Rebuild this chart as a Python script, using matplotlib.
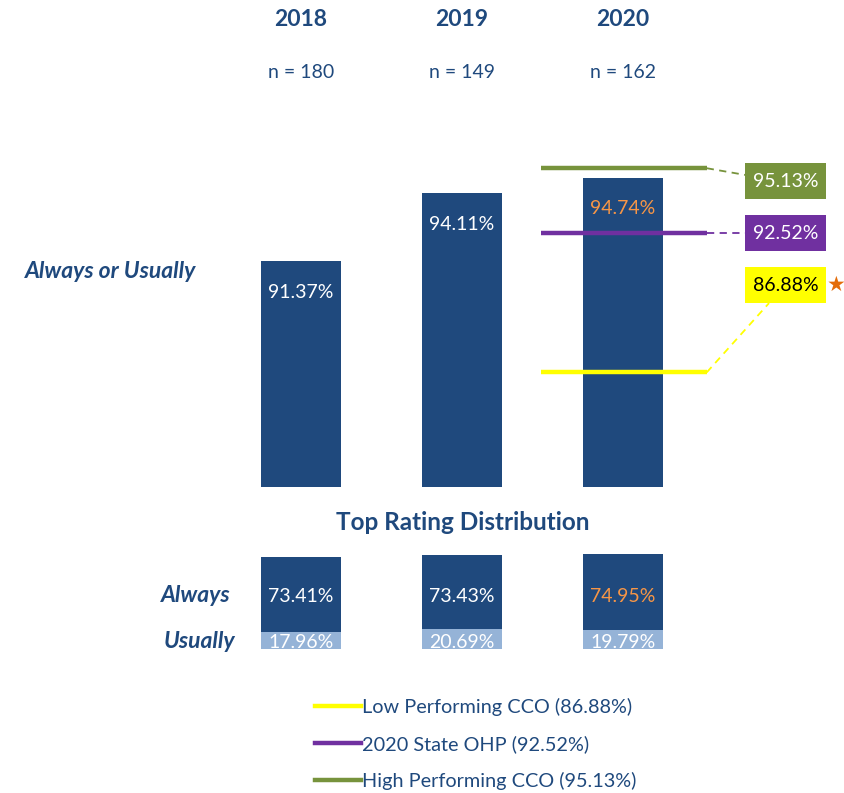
import matplotlib

matplotlib.use("Agg")
import matplotlib.pyplot as plt
import matplotlib.transforms as mtransforms
from matplotlib.lines import Line2D
from matplotlib.patches import Rectangle

plt.rcParams["font.family"] = ["Lato", "DejaVu Sans"]

# ----------------------------------------------------------------------
# Daten
# ----------------------------------------------------------------------
years = ["2018", "2019", "2020"]
n_resp = [180, 149, 162]
always_or_usually = [91.37, 94.11, 94.74]
always = [73.41, 73.43, 74.95]
usually = [17.96, 20.69, 19.79]

ref_names = ["Low Performing CCO", "2020 State OHP", "High Performing CCO"]
ref_values = [86.88, 92.52, 95.13]

# ----------------------------------------------------------------------
# Farben
# ----------------------------------------------------------------------
NAVY = "#1F497D"
LIGHT = "#95B3D7"
ORANGE = "#F79646"
REF_COLORS = ["#FFFF00", "#7030A0", "#77933C"]
BOX_TEXT = ["black", "white", "white"]
STAR = "#E46C0A"

W, H = 844, 793
fig = plt.figure(figsize=(W / 100, H / 100), dpi=100)


def px_axes(top, bottom):
    return fig.add_axes([0, 1 - bottom / H, 1, (bottom - top) / H])


x = list(range(len(years)))
XLIM = (-301 / 161, (W - 301) / 161)

# ----------------------------------------------------------------------
# Oberer Teil: Always or Usually
# ----------------------------------------------------------------------
ax = px_axes(150, 487)
ax.set_xlim(*XLIM)
ax.set_ylim(82.25, 82.25 + 337 / 24.75)
ax.axis("off")

ax.bar(x, [v - 82.25 for v in always_or_usually], bottom=82.25,
       width=0.5, color=NAVY)
for i, v in enumerate(always_or_usually):
    col = ORANGE if i == len(x) - 1 else "white"
    ax.text(i, v - 1.25, f"{v:.2f}%", ha="center", va="center",
            fontsize=14, color=col)

# Referenzlinien + Kaesten
box_y = [90.41, 92.51, 94.61]       # Lage der Kaesten (Layout)
box_anchor = [(2.907, 89.68), (2.758, 92.52), (2.758, 94.86)]
box_w, box_h = 0.503, 1.455
for val, col, tcol, by, anc in zip(ref_values, REF_COLORS, BOX_TEXT,
                                   box_y, box_anchor):
    ax.hlines(val, 1.49, 2.52, color=col, linewidth=3.2, zorder=3)
    ax.plot([2.52, anc[0]], [val, anc[1]], color=col, linewidth=1.3,
            dashes=(4, 3), zorder=3)
    ax.add_patch(Rectangle((2.758, by - box_h / 2), box_w, box_h,
                           facecolor=col, edgecolor="none",
                           clip_on=False, zorder=4))
    ax.text(2.758 + box_w / 2, by, f"{val:.2f}%", ha="center",
            va="center", fontsize=14, color=tcol, zorder=5)

ax.text(3.32, box_y[0], "\u2605", ha="center", va="center",
        fontsize=15, color=STAR, family="DejaVu Sans")

trans = mtransforms.blended_transform_factory(ax.transData, fig.transFigure)
for i, (yr, n) in enumerate(zip(years, n_resp)):
    ax.text(i, 1 - 19 / H, yr, transform=trans, ha="center", va="center",
            fontsize=16.5, fontweight="bold", color=NAVY)
    ax.text(i, 1 - 72 / H, f"n = {n}", transform=trans, ha="center",
            va="center", fontsize=14, color=NAVY)

fig.text(111 / W, 1 - 271 / H, "Always or Usually", ha="center",
         va="center", fontsize=16.5, fontweight="bold", style="italic",
         color=NAVY)

# ----------------------------------------------------------------------
# Unterer Teil: Top Rating Distribution
# ----------------------------------------------------------------------
fig.text(463 / W, 1 - 523 / H, "Top Rating Distribution", ha="center",
         va="center", fontsize=17.5, fontweight="bold", color=NAVY)

ax2 = px_axes(540, 649)
ax2.set_xlim(*XLIM)
ax2.set_ylim(1.5, 1.5 + 109 / 1.02)
ax2.axis("off")

ax2.bar(x, usually, width=0.5, color=LIGHT)
ax2.bar(x, always, bottom=usually, width=0.5, color=NAVY)
for i in x:
    col = ORANGE if i == len(x) - 1 else "white"
    ax2.text(i, 52.5, f"{always[i]:.2f}%", ha="center", va="center",
             fontsize=14, color=col)
    ax2.text(i, 7.4, f"{usually[i]:.2f}%", ha="center", va="center",
             fontsize=14, color="white", clip_on=True)

fig.text(196 / W, 1 - 596 / H, "Always", ha="center", va="center",
         fontsize=16.5, fontweight="bold", style="italic", color=NAVY)
fig.text(199 / W, 1 - 641 / H, "Usually", ha="center", va="center",
         fontsize=16.5, fontweight="bold", style="italic", color=NAVY)

# ----------------------------------------------------------------------
# Legende
# ----------------------------------------------------------------------
handles = [Line2D([], [], color=c, linewidth=3.2) for c in REF_COLORS]
labels = [f"{n} ({v:.2f}%)" for n, v in zip(ref_names, ref_values)]
fig.legend(handles, labels, loc="upper left",
           bbox_to_anchor=(305 / W, 1 - 688 / H), frameon=False,
           fontsize=14.3, handlelength=2.3, handletextpad=0.08,
           labelspacing=0.95, labelcolor=NAVY, borderpad=0)

fig.savefig("out.png", dpi=100)
